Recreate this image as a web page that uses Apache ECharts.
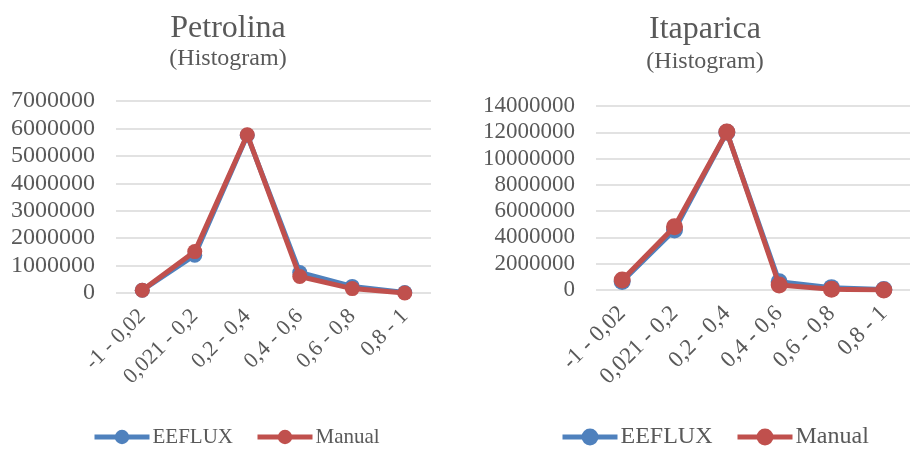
<!DOCTYPE html>
<html><head><meta charset="utf-8">
<script src="https://cdn.jsdelivr.net/npm/echarts@6/dist/echarts.min.js"></script>
<style>html,body{margin:0;padding:0;background:#fff}#c{width:910px;height:450px}</style>
</head><body><div id="c"></div>
<script>
const categories = ['-1 - 0,02', '0,021 - 0,2', '0,2 - 0,4', '0,4 - 0,6', '0,6 - 0,8', '0,8 - 1'];
const petrolinaEEFLUX = [100000, 1380000, 5750000, 750000, 240000, 20000];
const petrolinaManual = [100000, 1510000, 5770000, 600000, 160000, 0];
const itaparicaEEFLUX = [640000, 4560000, 12000000, 630000, 180000, 30000];
const itaparicaManual = [760000, 4810000, 12020000, 380000, 60000, 0];
const seriesNames = ['EEFLUX', 'Manual'];
const colors = ['#4F81BD', '#C0504D'];
const F = '"Liberation Serif", "Times New Roman", serif';
const TC = '#595959';
const chart = echarts.init(document.getElementById('c'));
function yAxis(idx, max, interval, fs) {
  return {type:'value', gridIndex:idx, min:0, max:max, interval:interval,
    axisLine:{show:false}, axisTick:{show:false},
    axisLabel:{fontFamily:F, fontSize:fs, color:TC, margin:21, formatter: v => String(v)},
    splitLine:{lineStyle:{color:'#d9d9d9', width:1.5}}};
}
function xAxis(idx, fs, m) {
  return {type:'category', gridIndex:idx, data:categories, boundaryGap:true,
    axisLine:{show:false}, axisTick:{show:false},
    axisLabel:{fontFamily:F, fontSize:fs, color:TC, rotate:45, margin:m, interval:0}};
}
function ser(name, data, idx, ci, sym) {
  return {name:name, type:'line', xAxisIndex:idx, yAxisIndex:idx, data:data,
    symbol:'circle', symbolSize:sym, lineStyle:{width:5, color:colors[ci]},
    itemStyle:{color:colors[ci]}, z: ci+2};
}
function leg(name, left, fs, ih) {
  return {data:[{name:name}], left:left, top:437 - Math.max(fs, ih)/2 - 5, itemWidth:55, itemHeight:ih, itemGap:3,
    lineStyle:{width:5},
    textStyle:{fontFamily:F, fontSize:fs, color:TC, padding:[0,0,0,-2]}};
}
chart.setOption({
  animation:false,
  title:[
    {text:'Petrolina', left:223, top:8, textAlign:'center', textStyle:{fontFamily:F, fontSize:32, fontWeight:'normal', color:TC}},
    {text:'(Histogram)', left:223, top:42, textAlign:'center', textStyle:{fontFamily:F, fontSize:24, fontWeight:'normal', color:TC}},
    {text:'Itaparica', left:700, top:9, textAlign:'center', textStyle:{fontFamily:F, fontSize:32, fontWeight:'normal', color:TC}},
    {text:'(Histogram)', left:700, top:45, textAlign:'center', textStyle:{fontFamily:F, fontSize:24, fontWeight:'normal', color:TC}}
  ],
  legend:[
    leg('EEFLUX', 87, 21, 18),
    leg('Manual', 250, 21, 18),
    leg('EEFLUX', 555, 24, 21),
    leg('Manual', 730, 24, 21)
  ],
  grid:[
    {left:116, top:101, width:315, height:192},
    {left:596, top:106, width:323, height:184}
  ],
  xAxis:[xAxis(0, 22, 20), xAxis(1, 23, 20)],
  yAxis:[yAxis(0, 7000000, 1000000, 24), yAxis(1, 14000000, 2000000, 23)],
  series:[
    ser('EEFLUX', petrolinaEEFLUX, 0, 0, 15),
    ser('Manual', petrolinaManual, 0, 1, 15),
    ser('EEFLUX', itaparicaEEFLUX, 1, 0, 17),
    ser('Manual', itaparicaManual, 1, 1, 17)
  ]
});
</script></body></html>
